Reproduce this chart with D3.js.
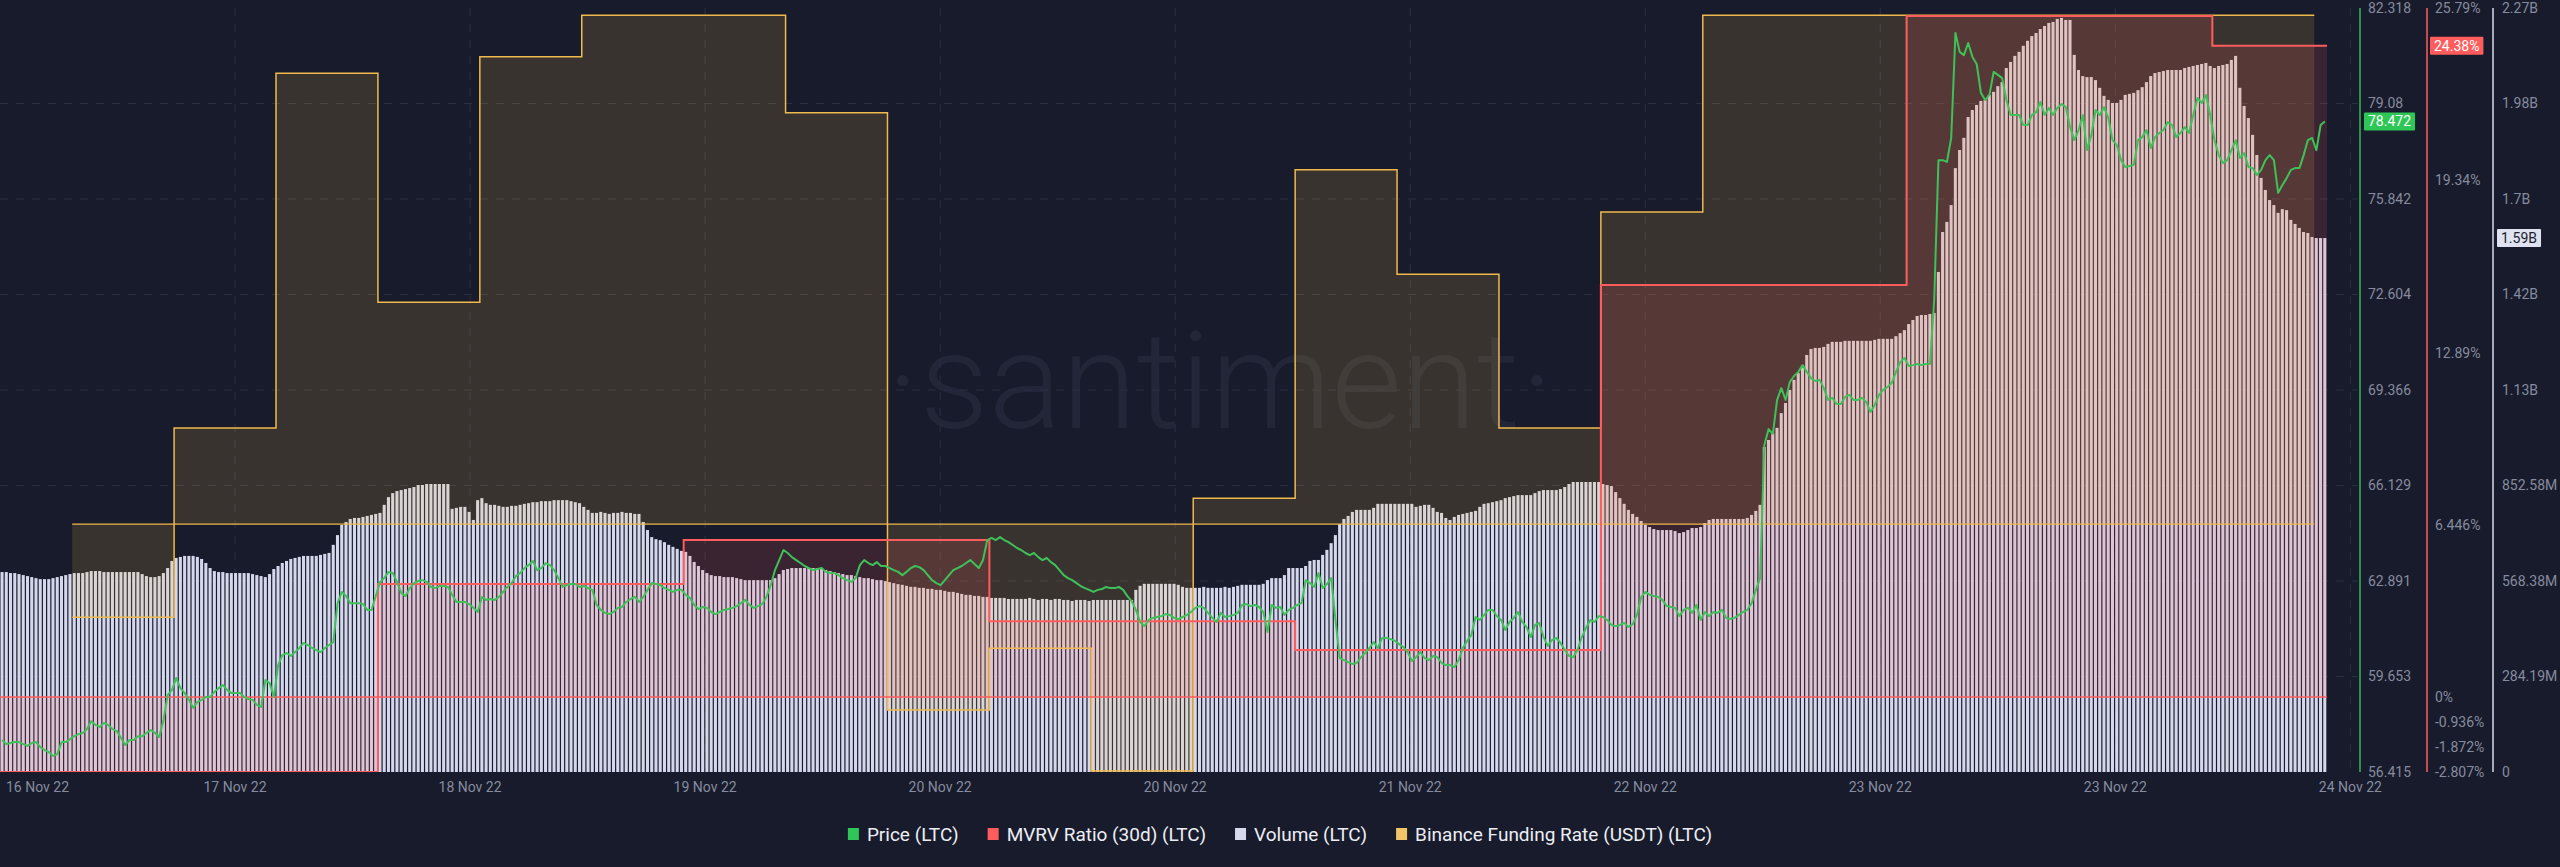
<!DOCTYPE html>
<html>
<head>
<meta charset="utf-8">
<script src="https://cdn.jsdelivr.net/npm/d3@7"></script>
<style>
  html, body { margin: 0; padding: 0; background: #181b2b; }
  svg { display: block; font-family: Roboto, "Open Sans", sans-serif; }
</style>
</head>
<body>
<svg id="chart" width="2560" height="867"></svg>
<script>
// LTC, 20 min candles, first one at 16 Nov 22 18:20 UTC
const startTime = Date.UTC(2022, 10, 16, 18, 20);
const stepMs = 20 * 60 * 1000;

// volume (LTC) in millions, one value per 20 min bar
const volume = [
  595,595,592,592,589,586,583,580,577,574, 574,574,577,580,583,586,589,592,592,592,
  595,598,598,598,595,595,595,595,595,595, 595,595,595,589,583,580,580,583,592,607,
  628,637,640,643,643,643,640,634,622,607, 598,595,595,592,592,592,592,592,592,589,
  586,583,580,589,604,613,622,628,634,637, 640,643,643,643,643,646,649,652,676,705,
  735,744,753,756,756,759,762,765,768,771, 795,818,830,836,839,842,845,848,854,854,
  857,857,857,857,857,857,783,786,789,789, 774,750,809,815,800,795,795,792,789,789,
  792,792,795,798,800,803,803,806,806,806, 809,809,809,809,806,803,800,789,780,771,
  771,774,771,768,771,771,774,771,771,768, 768,744,720,699,693,690,684,676,670,664,
  658,655,643,625,613,601,592,586,583,583, 580,580,580,577,574,571,571,571,571,571,
  571,571,577,589,601,604,607,607,607,607, 607,607,607,604,601,598,595,592,589,586,
  586,583,580,577,577,574,571,571,568,565, 562,559,557,554,551,551,548,548,545,545,
  542,542,539,536,536,533,530,527,527,524, 524,521,521,518,518,518,518,515,515,515,
  515,515,518,515,512,515,515,512,515,515, 512,512,509,512,512,512,509,512,512,512,
  512,512,512,512,512,512,512,542,554,560, 560,560,560,560,560,560,560,557,551,548,
  548,548,548,551,548,548,548,548,551,548, 551,554,557,557,557,557,557,560,571,577,
  577,577,586,607,607,607,607,613,628,631, 631,646,661,681,705,738,753,762,774,780,
  780,780,780,786,798,798,798,798,798,798, 798,798,798,789,792,795,795,786,774,771,
  756,750,759,765,768,771,774,777,789,798, 800,803,806,809,815,818,821,824,824,824,
  824,830,836,839,839,839,839,842,848,857, 863,863,863,863,863,863,863,857,854,851,
  833,815,798,780,768,759,747,735,729,723, 720,720,720,720,717,711,714,720,726,726,
  729,741,750,753,753,753,753,753,753,753, 753,756,765,777,795,967,988,1009,1024,1068,
  1098,1137,1167,1187,1211,1241,1259,1262,1262,1265, 1274,1280,1280,1280,1283,1283,1283,1283,1283,1283,
  1283,1286,1289,1289,1289,1289,1297,1306,1315,1333, 1345,1357,1360,1360,1363,1366,1488,1607,1637,1687,
  1797,1851,1887,1949,1970,1985,1997,2000,2015,2024, 2041,2053,2095,2113,2131,2143,2161,2176,2190,2199,
  2211,2220,2229,2232,2241,2244,2238,2238,2134,2089, 2071,2068,2068,2059,2036,2012,2000,1991,1991,2000,
  2015,2018,2021,2029,2038,2053,2071,2080,2083,2086, 2089,2089,2089,2089,2095,2098,2101,2104,2107,2110,
  2101,2095,2101,2104,2107,2119,2131,2036,1982,1946, 1896,1836,1768,1732,1702,1687,1664,1675,1672,1643,
  1631,1619,1607,1604,1592,1589,1589,1589
];

// price (LTC) in USD, same 20 min steps
const price = [
  57.50,57.36,57.40,57.43,57.43,57.36,57.30,57.40,57.43,57.26, 57.16,57.09,56.96,57.02,57.43,57.43,57.53,57.63,57.70,57.74,
  57.87,58.14,58.01,57.94,58.08,58.01,57.87,57.80,57.57,57.33, 57.50,57.50,57.63,57.63,57.74,57.84,57.74,57.60,58.18,59.03,
  59.20,59.60,59.26,59.09,58.86,58.59,58.79,58.86,58.96,58.96, 59.13,59.26,59.36,59.20,59.09,59.09,59.09,58.96,58.89,58.86,
  58.69,58.62,59.53,59.43,58.96,60.04,60.38,60.45,60.35,60.48, 60.62,60.79,60.72,60.62,60.55,60.48,60.62,60.72,60.82,62.14,
  62.52,62.38,62.14,62.14,62.14,62.11,61.91,61.91,62.38,62.86, 62.99,63.20,63.16,62.86,62.48,62.38,62.65,62.82,62.89,62.92,
  62.86,62.69,62.65,62.72,62.72,62.69,62.42,62.18,62.18,62.18, 62.11,61.98,61.84,62.35,62.25,62.28,62.25,62.35,62.52,62.69,
  62.82,63.06,63.16,63.33,63.43,63.57,63.26,63.33,63.50,63.43, 63.26,62.99,62.69,62.75,62.79,62.79,62.69,62.72,62.65,62.59,
  62.08,61.91,61.81,61.77,61.84,61.98,62.01,62.18,62.28,62.35, 62.18,62.35,62.59,62.82,62.79,62.75,62.65,62.59,62.52,62.59,
  62.59,62.42,62.31,62.08,61.94,62.01,61.98,61.84,61.77,61.84, 61.91,61.94,61.98,62.04,62.14,62.25,62.08,61.98,62.04,62.11,
  62.35,62.75,63.26,63.60,63.94,63.84,63.70,63.60,63.50,63.40, 63.33,63.26,63.30,63.33,63.20,63.16,63.16,63.09,62.99,62.92,
  62.86,62.99,63.43,63.60,63.50,63.43,63.53,63.40,63.40,63.33, 63.26,63.20,63.09,63.20,63.33,63.40,63.36,63.26,63.09,62.92,
  62.82,62.75,62.92,63.09,63.26,63.33,63.40,63.50,63.60,63.47, 63.33,63.60,64.28,64.35,64.28,64.38,64.28,64.21,64.11,64.01,
  63.94,63.84,63.77,63.84,63.70,63.60,63.67,63.53,63.43,63.26, 63.09,62.99,62.92,62.82,62.72,62.65,62.59,62.52,62.59,62.62,
  62.69,62.65,62.65,62.69,62.59,62.38,62.21,61.91,61.50,61.36, 61.57,61.64,61.67,61.70,61.77,61.74,61.64,61.60,61.67,61.74,
  61.84,61.98,62.04,61.98,61.81,61.64,61.50,61.81,61.67,61.70, 61.74,61.81,62.08,62.11,62.04,62.08,62.01,61.84,61.16,62.08,
  61.98,62.01,61.74,61.91,61.98,62.08,62.14,62.92,62.82,62.69, 63.16,62.65,62.79,62.99,61.57,60.28,60.21,60.14,60.08,60.11,
  60.31,60.45,60.62,60.82,60.62,60.96,60.96,60.92,60.86,60.75, 60.65,60.48,60.18,60.31,60.48,60.28,60.21,60.35,60.31,60.11,
  60.04,60.04,59.97,60.21,60.62,60.86,61.06,61.67,61.57,61.74, 61.91,61.91,61.70,61.57,61.23,61.50,61.64,61.84,61.50,61.33,
  60.99,61.40,61.47,60.99,60.69,60.89,60.96,60.79,60.55,60.35, 60.31,60.55,60.99,61.30,61.57,61.50,61.70,61.67,61.57,61.40,
  61.36,61.40,61.47,61.33,61.43,61.74,62.35,62.52,62.42,62.38, 62.35,62.25,62.04,62.01,61.98,61.70,61.91,61.98,61.81,62.08,
  61.57,61.84,61.70,61.84,61.81,61.91,61.64,61.60,61.64,61.74, 61.84,61.91,62.14,62.59,62.99,67.50,68.04,67.88,69.03,69.43,
  69.03,69.64,69.84,69.98,70.21,69.98,69.77,69.67,69.71,69.43, 69.03,69.10,68.89,68.89,69.13,69.20,69.03,69.03,69.10,68.96,
  68.62,68.86,69.20,69.37,69.47,69.60,69.98,70.32,70.45,70.18, 70.21,70.25,70.21,70.25,70.25,72.42,77.16,77.16,77.10,77.91,
  81.47,80.83,80.72,81.13,80.66,80.42,79.44,79.20,79.37,80.15, 80.05,79.94,79.20,78.69,78.69,78.69,78.35,78.35,78.69,78.79,
  79.13,78.69,78.93,78.69,78.93,79.06,78.96,78.28,77.84,78.18, 78.69,77.50,78.01,78.86,78.69,78.96,78.59,77.84,77.67,77.16,
  76.93,76.96,77.00,77.84,77.94,78.18,77.57,77.94,78.08,78.18, 78.45,78.35,77.94,78.08,78.28,78.08,78.69,79.27,79.10,79.37,
  78.69,77.84,77.33,77.06,77.16,77.50,77.84,77.23,77.40,76.93, 76.89,76.66,76.83,77.16,77.33,77.16,76.05,76.32,76.55,76.83,
  76.89,76.89,77.33,77.84,77.91,77.50,78.35,78.472
];

// MVRV ratio (30d), % , daily
const mvrvDays = ["2022-11-16", "2022-11-17", "2022-11-18", "2022-11-19", "2022-11-20",
                  "2022-11-21", "2022-11-22", "2022-11-23", "2022-11-24"];
const mvrv = [-2.807, -2.807, 4.23, 5.88, 2.84, 1.76, 15.42, 25.49, 24.38];

// Binance funding rate, every 8h from 17 Nov 00:00 UTC
const fundingStart = Date.UTC(2022, 10, 17, 0, 0);
const funding = [
  -0.00183, 0.00189, 0.00886, 0.00436, 0.00918, 0.01, 0.01, 0.00808,
  -0.00365, -0.00244, -0.00485, 0.00051, 0.00696, 0.00491, 0.00189, 0.00613,
  0.01, 0.01, 0.01, 0.01, 0.01, 0.01, 0.01
];

// axes
const xTickLabels = ["16 Nov 22", "17 Nov 22", "18 Nov 22", "19 Nov 22", "20 Nov 22", "20 Nov 22",
                     "21 Nov 22", "22 Nov 22", "23 Nov 22", "23 Nov 22", "24 Nov 22"];
const priceTicks = [56.415, 59.653, 62.891, 66.129, 69.366, 72.604, 75.842, 79.08, 82.318];
const mvrvTicks = [-2.807, -1.872, -0.936, 0, 6.446, 12.89, 19.34, 25.79];
const volumeTicks = [0, 284.19, 568.38, 852.58, 1136.77, 1420.96, 1705.15, 1989.35, 2273.54];
const fundingExtent = [-0.00487, 0.01014];

const legendItems = ["Price (LTC)", "MVRV Ratio (30d) (LTC)", "Volume (LTC)", "Binance Funding Rate (USDT) (LTC)"];
const legendColors = ["#2ec656", "#ff5d5d", "#d6d9ec", "#f2c46a"];

const W = 2560, H = 867;
const plotL = 0, plotR = 2327, plotT = 8, plotB = 772;

const bg = "#181b2b";
const green = "#3fc15a", red = "#ff5d5d", yellow = "#efb94c", lav = "#d5d8ec";
const axisText = "#868b9f";

const svg = d3.select("#chart");
svg.append("rect").attr("width", W).attr("height", H).attr("fill", bg);

const times = volume.map((d, i) => startTime + i * stepMs);
const endTime = startTime + volume.length * stepMs;

const x = d3.scaleUtc().domain([startTime, endTime]).range([plotL, plotR]);
const yPrice = d3.scaleLinear().domain([priceTicks[0], priceTicks[priceTicks.length - 1]]).range([plotB, plotT]);
const yMvrv = d3.scaleLinear().domain([mvrvTicks[0], mvrvTicks[mvrvTicks.length - 1]]).range([plotB, plotT]);
const yVol = d3.scaleLinear().domain([0, volumeTicks[volumeTicks.length - 1]]).range([plotB, plotT]);
const yFund = d3.scaleLinear().domain(fundingExtent).range([plotB, plotT]);

svg.append("defs").append("clipPath").attr("id", "plotClip")
  .append("rect").attr("x", plotL).attr("y", 0).attr("width", plotR - plotL).attr("height", plotB);

// watermark
svg.append("text")
  .attr("x", 1220).attr("y", 428)
  .attr("text-anchor", "middle")
  .attr("font-size", 136).attr("font-weight", 300)
  .attr("fill", "#222638")
  .text("·santiment·");

// grid
const tickStep = 18.45 * 3600 * 1000;
const xTicks = xTickLabels.map((d, i) => startTime + i * tickStep);

svg.append("g").selectAll("line").data(xTicks.slice(1)).join("line")
  .attr("x1", d => x(d)).attr("x2", d => x(d))
  .attr("y1", plotT).attr("y2", plotB)
  .attr("stroke", "#2b2f44").attr("stroke-dasharray", "8,8");

svg.append("g").selectAll("line").data(priceTicks.slice(1, -1)).join("line")
  .attr("x1", plotL).attr("x2", 2358)
  .attr("y1", d => yPrice(d)).attr("y2", d => yPrice(d))
  .attr("stroke", "#2b2f44").attr("stroke-dasharray", "8,8");

const plotG = svg.append("g").attr("clip-path", "url(#plotClip)");

// volume bars
const barStep = x(startTime + stepMs) - x(startTime);
plotG.append("g").selectAll("rect").data(volume).join("rect")
  .attr("x", (d, i) => x(times[i]) + 0.5)
  .attr("width", barStep * 0.72)
  .attr("y", d => yVol(d))
  .attr("height", d => yVol(0) - yVol(d))
  .attr("fill", lav);

// funding rate area
const fundPts = funding.map((v, i) => ({ t: fundingStart + i * 8 * 3600 * 1000, v }));
plotG.append("path").datum(fundPts)
  .attr("d", d3.area().curve(d3.curveStepAfter)
    .x(d => x(d.t)).y0(yFund(0)).y1(d => yFund(d.v)))
  .attr("fill", "rgba(245,195,80,0.15)");

// mvrv area
const mvrvPts = mvrv.map((v, i) => ({ t: Date.parse(mvrvDays[i] + "T00:00:00Z"), v }));
mvrvPts.push({ t: endTime, v: mvrv[mvrv.length - 1] });
plotG.append("path").datum(mvrvPts)
  .attr("d", d3.area().curve(d3.curveStepAfter)
    .x(d => x(d.t)).y0(yMvrv(0)).y1(d => yMvrv(d.v)))
  .attr("fill", "rgba(255,93,93,0.15)");

// funding lines
plotG.append("line")
  .attr("x1", x(fundPts[0].t)).attr("x2", x(fundPts[fundPts.length - 1].t))
  .attr("y1", yFund(0)).attr("y2", yFund(0))
  .attr("stroke", yellow).attr("stroke-width", 1.2);
plotG.append("path").datum(fundPts)
  .attr("d", d3.line().curve(d3.curveStepAfter).x(d => x(d.t)).y(d => yFund(d.v)))
  .attr("fill", "none").attr("stroke", yellow).attr("stroke-width", 1.5);

// mvrv lines
plotG.append("line")
  .attr("x1", plotL).attr("x2", plotR)
  .attr("y1", yMvrv(0)).attr("y2", yMvrv(0))
  .attr("stroke", red).attr("stroke-width", 1.5);
plotG.append("path").datum(mvrvPts)
  .attr("d", d3.line().curve(d3.curveStepAfter).x(d => x(d.t)).y(d => yMvrv(d.v)))
  .attr("fill", "none").attr("stroke", red).attr("stroke-width", 2);

// price line
plotG.append("path").datum(price)
  .attr("d", d3.line().x((d, i) => x(times[i] + stepMs / 2)).y(d => yPrice(d)))
  .attr("fill", "none").attr("stroke", green).attr("stroke-width", 2)
  .attr("stroke-linejoin", "round");

// x axis labels
const xLab = svg.append("g").attr("font-size", 14).attr("fill", axisText);
xTicks.forEach((t, i) => {
  const txt = xLab.append("text").attr("y", 792).attr("text-anchor", "middle").text(xTickLabels[i]);
  const w = txt.node().getComputedTextLength();
  txt.attr("x", Math.max(x(t), w / 2 + 6));
});

// right axes
const truncate = (v, n) => Math.floor(v * Math.pow(10, n) + 1e-6) / Math.pow(10, n);
const fmtVol = v => v === 0 ? "0" : v >= 1000 ? truncate(v / 1000, 2) + "B" : truncate(v, 2) + "M";
const fmtVolBadge = v => v >= 1000 ? +(v / 1000).toFixed(2) + "B" : +v.toFixed(2) + "M";

function rightAxis(xLine, xText, color, ticks, scale, fmt) {
  svg.append("line").attr("x1", xLine).attr("x2", xLine).attr("y1", plotT).attr("y2", plotB)
    .attr("stroke", color).attr("stroke-width", 1.5);
  svg.append("g").attr("font-size", 14).attr("fill", axisText)
    .selectAll("text").data(ticks).join("text")
    .attr("x", xText).attr("y", d => scale(d)).attr("dy", "0.35em")
    .text(fmt);
}
rightAxis(2360, 2368, "#36b852", priceTicks, yPrice, d => String(d));
rightAxis(2427, 2435, red, mvrvTicks, yMvrv, d => d + "%");
rightAxis(2493, 2502, "#d6d9ec", volumeTicks, yVol, fmtVol);

// last value badges
function badge(xPos, yPos, text, fill, color) {
  const g = svg.append("g");
  const r = g.append("rect").attr("fill", fill).attr("rx", 1);
  const t = g.append("text").attr("font-size", 14).attr("fill", color)
    .attr("x", xPos + 4).attr("y", yPos).attr("dy", "0.35em").text(text);
  const w = t.node().getComputedTextLength();
  r.attr("x", xPos).attr("y", yPos - 9).attr("width", w + 8).attr("height", 18);
}
badge(2364, yPrice(price[price.length - 1]), String(price[price.length - 1]), "#2ec656", "#ffffff");
badge(2430, yMvrv(mvrv[mvrv.length - 1]), mvrv[mvrv.length - 1] + "%", "#ff5d5d", "#ffffff");
badge(2497, yVol(volume[volume.length - 1]), fmtVolBadge(volume[volume.length - 1]), "#dfe2f0", "#1b1e2e");

// legend
const legend = svg.append("g").attr("font-size", 19).attr("fill", "#eceef5");
let lx = 0;
legendItems.forEach((name, i) => {
  legend.append("rect").attr("x", lx).attr("y", -6).attr("width", 11).attr("height", 12)
    .attr("fill", legendColors[i]);
  const t = legend.append("text").attr("x", lx + 19).attr("y", 0).attr("dy", "0.35em").text(name);
  lx += 19 + t.node().getComputedTextLength() + 29;
});
lx -= 29;
legend.attr("transform", `translate(${W / 2 - lx / 2},834)`);
</script>
</body>
</html>
